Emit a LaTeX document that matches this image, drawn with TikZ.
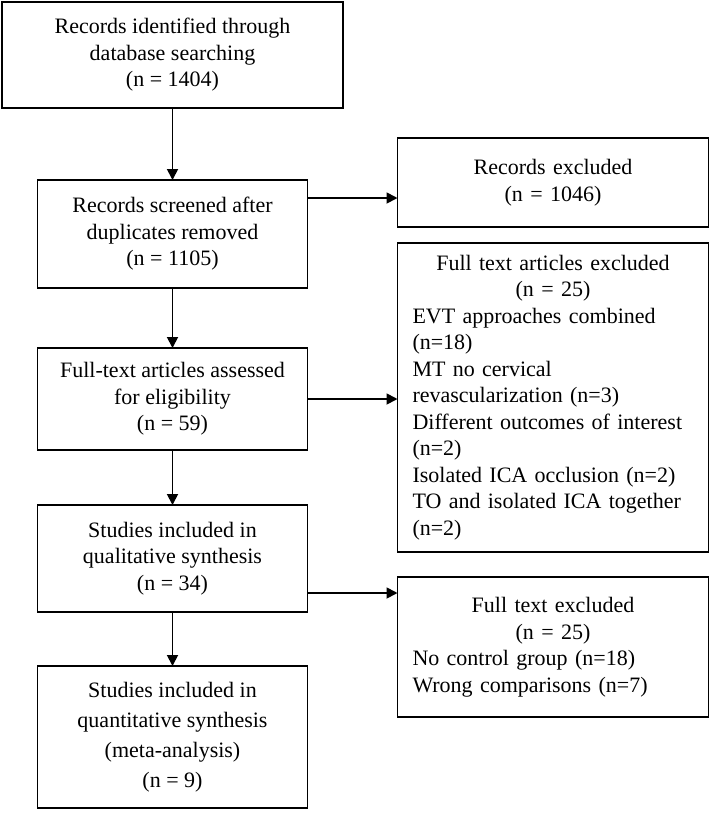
\documentclass[tikz,border=0pt]{standalone}
\usepackage{fontspec}
\setmainfont{Liberation Serif}
\usetikzlibrary{positioning,arrows.meta}
\newcommand{\ctrline}[1]{\makebox[281pt]{#1}}

\begin{document}
\begin{tikzpicture}[->,>={Triangle[length=11pt,width=11pt]},line width=1.8pt,
    x=1pt,y=1pt,
    flow box/.style={draw,align=center,minimum width=270pt,inner sep=0pt,outer sep=0pt,
      font=\fontsize{22}{26.5}\selectfont},
    side box/.style={draw,align=left,text width=281pt,inner xsep=15pt,inner ysep=0pt,
      outer sep=0pt,font=\fontsize{22}{26.5}\selectfont}]

    \useasboundingbox (0,0) rectangle (709,-814);

    % Main column
    \node[flow box,minimum width=341pt,minimum height=106pt] (ident) at (172.5,-55)
      {Records identified through\\database searching\\(n = 1404)};
    \node[flow box,minimum height=108pt,below=72pt of ident] (screen)
      {Records screened after\\duplicates removed\\(n = 1105)};
    \node[flow box,minimum height=102pt,below=60pt of screen] (full)
      {Full-text articles assessed\\for eligibility\\(n = 59)};
    \node[flow box,minimum height=107pt,below=55pt of full] (qual)
      {Studies included in\\qualitative synthesis\\(n = 34)};
    \node[flow box,minimum height=142pt,below=54pt of qual,
      font=\fontsize{22}{30}\selectfont] (quant)
      {Studies included in\\quantitative synthesis\\(meta-analysis)\\(n = 9)};

    % Exclusions
    \node[side box,align=center,minimum height=89pt,right=90pt of screen,yshift=51.5pt] (recex)
      {Records excluded\\(n = 1046)};
    \node[side box,minimum height=309pt,right=90pt of full,yshift=1.5pt] (ftex)
      {\ctrline{Full text articles excluded}\\
       \ctrline{(n = 25)}\\
       EVT approaches combined\\
       (n=18)\\
       MT no cervical\\
       revascularization (n=3)\\
       Different outcomes of interest\\
       (n=2)\\
       Isolated ICA occlusion (n=2)\\
       TO and isolated ICA together\\
       (n=2)};
    \node[side box,minimum height=140pt,right=90pt of qual,yshift=-88.5pt] (ftex2)
      {\ctrline{Full text excluded}\\
       \ctrline{(n = 25)}\\
       No control group (n=18)\\
       Wrong comparisons (n=7)};

    % Arrows
    \draw (ident) -- (screen);
    \draw (screen) -- (full);
    \draw (full) -- (qual);
    \draw (qual) -- (quant);
    \coordinate (s1) at ([yshift=36pt]screen.east);
    \draw (s1) -- (s1 -| recex.west);
    \draw (full.east) -- (full.east -| ftex.west);
    \coordinate (s3) at ([yshift=-34.5pt]qual.east);
    \draw (s3) -- (s3 -| ftex2.west);
  \end{tikzpicture}
\end{document}
